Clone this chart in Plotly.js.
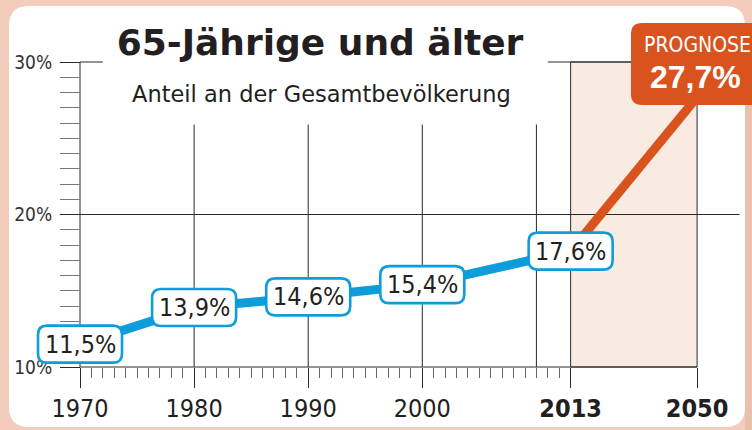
<!DOCTYPE html>
<html>
<head>
<meta charset="utf-8">
<script src="https://cdn.plot.ly/plotly-3.0.1.min.js"></script>
<style>
  html, body { margin: 0; padding: 0; background: #F2CDBC; }
  #chart { width: 752px; height: 430px; }
</style>
</head>
<body>
<div id="chart"></div>
<script>
// ---------- data ----------
const years = [1970, 1980, 1990, 2000, 2013, 2050];
const shares = [11.5, 13.9, 14.6, 15.4, 17.6, 27.7];
const shareLabels = ['11,5%', '13,9%', '14,6%', '15,4%', '17,6%', '27,7%'];
const tickYears = [1970, 1980, 1990, 2000, 2013, 2050];
const tickLabels = ['1970', '1980', '1990', '2000', '<b>2013</b>', '<b>2050</b>'];
const yTickVals = [10, 20, 30];
const yTickLabels = ['10%', '20%', '30%'];
const gridYears = [1980, 1990, 2000, 2010];
const titleText = '65-Jährige und älter';
const subtitleText = 'Anteil an der Gesamtbevölkerung';
const forecastWord = 'PROGNOSE';

// ---------- axis break: time after 2013 is compressed ----------
const BREAK = 2013, SQUEEZE = 0.2995;
const xpos = y => (y <= BREAK ? y : BREAK + (y - BREAK) * SQUEEZE);

// ---------- layout geometry ----------
const W = 752, H = 430;
const M = { l: 20, r: 5, t: 58, b: 59 };
const PW = W - M.l - M.r, PH = H - M.t - M.b;
const PX = px => (px - M.l) / PW;          // pixel -> paper (x)
const PY = py => (H - M.b - py) / PH;      // pixel -> paper (y)
const X_RANGE = [1964.741, 2028.457];
const Y_PAD = 4 / 15.25;
const Y_RANGE = [10 - Y_PAD, 30 + Y_PAD];
const X_RIGHT = 2027.8;

const NARROW = '"Liberation Sans Narrow", "Arial Narrow", "DejaVu Sans Condensed", sans-serif';
const DARK = '#2a2a2a';
const BLUE = '#0C9DDA';
const ORANGE = '#D9531F';

const minorYears = [];
for (let y = 1971; y < BREAK; y++) minorYears.push(y);

// rounded rect path, pixel offsets around an anchor
function roundBox(w, h, r) {
  const a = w / 2, b = h / 2;
  return `M ${-a + r},${-b} L ${a - r},${-b} Q ${a},${-b} ${a},${-b + r} ` +
         `L ${a},${b - r} Q ${a},${b} ${a - r},${b} L ${-a + r},${b} ` +
         `Q ${-a},${b} ${-a},${b - r} L ${-a},${-b + r} Q ${-a},${-b} ${-a + r},${-b} Z`;
}
// rounded rect path in paper coords from pixel box
function paperRoundRect(x0, y0, x1, y1, r) {
  const p = (x, y) => `${PX(x)},${PY(y)}`;
  return `M ${p(x0 + r, y0)} L ${p(x1 - r, y0)} Q ${p(x1, y0)} ${p(x1, y0 + r)} ` +
         `L ${p(x1, y1 - r)} Q ${p(x1, y1)} ${p(x1 - r, y1)} L ${p(x0 + r, y1)} ` +
         `Q ${p(x0, y1)} ${p(x0, y1 - r)} L ${p(x0, y0 + r)} Q ${p(x0, y0)} ${p(x0 + r, y0)} Z`;
}

const nHist = years.indexOf(BREAK) + 1;

const traces = [
  {
    x: years.slice(0, nHist).map(xpos),
    y: shares.slice(0, nHist),
    mode: 'lines',
    line: { color: BLUE, width: 9 },
    hoverinfo: 'skip',
    showlegend: false
  },
  {
    x: years.slice(nHist - 1).map(xpos),
    y: shares.slice(nHist - 1),
    mode: 'lines',
    line: { color: ORANGE, width: 9 },
    hoverinfo: 'skip',
    showlegend: false
  }
];

const shapes = [];
// white panel
shapes.push({ type: 'path', xref: 'paper', yref: 'paper', layer: 'below',
  path: paperRoundRect(9, 6, 745, 427, 20), fillcolor: '#FFFFFF', line: { width: 0 } });
// right shadow strip
shapes.push({ type: 'rect', xref: 'paper', yref: 'paper', layer: 'below',
  x0: PX(745), x1: PX(752), y0: PY(430), y1: PY(28), fillcolor: '#E9C0AC', line: { width: 0 } });
// forecast shaded region
shapes.push({ type: 'rect', xref: 'x', yref: 'y', layer: 'below',
  x0: xpos(BREAK), x1: xpos(2050), y0: 10, y1: 30,
  fillcolor: '#F9EBE1', line: { color: DARK, width: 1 } });
// vertical grid lines
gridYears.forEach(g => shapes.push({ type: 'line', xref: 'x', yref: 'y', layer: 'below',
  x0: g, x1: g, y0: 10, y1: 25.9, line: { color: DARK, width: 1 } }));
// 20% grid line
shapes.push({ type: 'line', xref: 'x', yref: 'y', layer: 'below',
  x0: 1970, x1: X_RIGHT, y0: 20, y1: 20, line: { color: DARK, width: 1 } });
// 30% line, interrupted by the title
shapes.push({ type: 'line', xref: 'x', yref: 'y', layer: 'below',
  x0: 1970, x1: 1972.0, y0: 30, y1: 30, line: { color: DARK, width: 1 } });
shapes.push({ type: 'line', xref: 'x', yref: 'y', layer: 'below',
  x0: 2011.0, x1: X_RIGHT, y0: 30, y1: 30, line: { color: DARK, width: 1 } });
// y axis line and x axis line
shapes.push({ type: 'line', xref: 'x', yref: 'y', layer: 'below',
  x0: 1970, x1: 1970, y0: 10, y1: 30, line: { color: DARK, width: 1 } });
shapes.push({ type: 'line', xref: 'x', yref: 'y', layer: 'below',
  x0: 1970, x1: xpos(2050), y0: 10, y1: 10, line: { color: DARK, width: 1 } });

// value label boxes (historical)
for (let i = 0; i < nHist; i++) {
  shapes.push({ type: 'path', xref: 'x', yref: 'y', layer: 'above',
    xsizemode: 'pixel', ysizemode: 'pixel',
    xanchor: xpos(years[i]), yanchor: shares[i],
    path: roundBox(84, 37, 9),
    fillcolor: '#FFFFFF', line: { color: BLUE, width: 2.6 } });
}
// forecast label box
shapes.push({ type: 'path', xref: 'paper', yref: 'paper', layer: 'above',
  path: paperRoundRect(631, 23, 775, 105, 11), fillcolor: ORANGE, line: { width: 0 } });

const annotations = [];
for (let i = 0; i < nHist; i++) {
  annotations.push({ x: xpos(years[i]), y: shares[i], xref: 'x', yref: 'y',
    text: shareLabels[i], showarrow: false, xanchor: 'center', yanchor: 'middle',
    font: { family: NARROW, size: 25, color: '#231F20' } });
}
annotations.push({ xref: 'paper', yref: 'paper', x: PX(642), y: PY(45),
  text: forecastWord, showarrow: false, xanchor: 'left', yanchor: 'middle',
  font: { family: NARROW, size: 21, color: '#FFFFFF' } });
annotations.push({ xref: 'paper', yref: 'paper', x: PX(648), y: PY(77),
  text: '<b>' + shareLabels[nHist] + '</b>', showarrow: false, xanchor: 'left', yanchor: 'middle',
  font: { family: '"Liberation Sans", Arial, sans-serif', size: 32, color: '#FFFFFF' } });
annotations.push({ xref: 'paper', yref: 'paper', x: PX(321), y: PY(94),
  text: subtitleText, showarrow: false, xanchor: 'center', yanchor: 'middle',
  font: { family: '"DejaVu Sans", sans-serif', size: 22.5, color: '#231F20' } });

const layout = {
  width: W, height: H,
  margin: M,
  paper_bgcolor: '#F2CDBC',
  plot_bgcolor: 'rgba(0,0,0,0)',
  showlegend: false,
  hovermode: false,
  title: {
    text: '<b>' + titleText + '</b>',
    x: 320 / W, xanchor: 'center',
    y: 1 - 42 / H, yanchor: 'middle',
    font: { family: '"DejaVu Sans", sans-serif', size: 36, color: '#231F20' }
  },
  xaxis: {
    range: X_RANGE,
    anchor: 'free',
    position: Y_PAD / (Y_RANGE[1] - Y_RANGE[0]),
    showline: false, showgrid: false, zeroline: false,
    tickmode: 'array',
    tickvals: tickYears.map(xpos),
    ticktext: tickLabels,
    ticks: 'outside', ticklen: 20, tickwidth: 1, tickcolor: DARK,
    ticklabelstandoff: -1,
    tickfont: { family: NARROW, size: 25, color: '#231F20' },
    minor: { tickmode: 'array', tickvals: minorYears, ticks: 'outside',
             ticklen: 10, tickwidth: 1, tickcolor: '#666666' },
    fixedrange: true
  },
  yaxis: {
    range: Y_RANGE,
    anchor: 'free',
    position: PX(80),
    showline: false, showgrid: false, zeroline: false,
    tickmode: 'array',
    tickvals: yTickVals,
    ticktext: yTickLabels,
    ticks: 'outside', ticklen: 20, tickwidth: 1, tickcolor: DARK,
    ticklabelstandoff: 4,
    tickfont: { family: NARROW, size: 19, color: '#333333' },
    minor: { dtick: 1, tick0: 10, ticks: 'outside', ticklen: 20, tickwidth: 1, tickcolor: '#777777' },
    fixedrange: true
  },
  shapes: shapes,
  annotations: annotations
};

Plotly.newPlot('chart', traces, layout, { displayModeBar: false, staticPlot: true });
</script>
</body>
</html>
